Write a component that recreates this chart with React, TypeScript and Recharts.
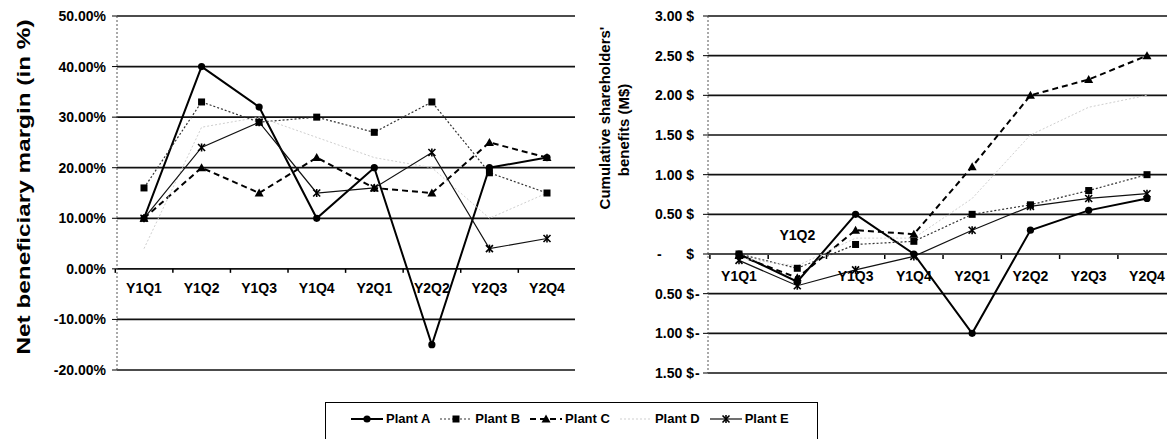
import React from 'react';
import { LineChart, Line, XAxis, YAxis, CartesianGrid } from 'recharts';

const categories = ['Y1Q1', 'Y1Q2', 'Y1Q3', 'Y1Q4', 'Y2Q1', 'Y2Q2', 'Y2Q3', 'Y2Q4'];
const seriesNames = ['Plant A', 'Plant B', 'Plant C', 'Plant D', 'Plant E'];

// Net beneficiary margin (in %)
const marginA = [10, 40, 32, 10, 20, -15, 20, 22];
const marginB = [16, 33, 29, 30, 27, 33, 19, 15];
const marginC = [10, 20, 15, 22, 16, 15, 25, 22];
const marginD = [4, 28, 30, 26, 22, 20, 10, 15];
const marginE = [10, 24, 29, 15, 16, 23, 4, 6];
const marginTicks = [-20, -10, 0, 10, 20, 30, 40, 50];

// Cumulative shareholders' benefits (M$)
const benefitA = [0, -0.35, 0.5, 0, -1.0, 0.3, 0.55, 0.7];
const benefitB = [0, -0.18, 0.12, 0.16, 0.5, 0.62, 0.8, 1.0];
const benefitC = [-0.02, -0.3, 0.3, 0.25, 1.1, 2.0, 2.2, 2.5];
const benefitD = [-0.05, -0.15, 0.2, 0.2, 0.7, 1.5, 1.85, 2.0];
const benefitE = [-0.08, -0.4, -0.2, -0.03, 0.3, 0.6, 0.7, 0.76];
const benefitTicks = [-1.5, -1, -0.5, 0, 0.5, 1, 1.5, 2, 2.5, 3];

const keys = ['A', 'B', 'C', 'D', 'E'];
const marginSeries = [marginA, marginB, marginC, marginD, marginE];
const benefitSeries = [benefitA, benefitB, benefitC, benefitD, benefitE];

const marginData = categories.map((cat, i) => {
  const row: any = { cat };
  keys.forEach((k, j) => (row[k] = marginSeries[j][i]));
  return row;
});
const benefitData = categories.map((cat, i) => {
  const row: any = { cat };
  keys.forEach((k, j) => (row[k] = benefitSeries[j][i]));
  return row;
});

const FONT = '"Liberation Sans", Arial, Helvetica, sans-serif';

const styles = [
  { stroke: '#000', width: 2, dash: undefined as string | undefined, marker: 'circle' },
  { stroke: '#333', width: 1.2, dash: '2 2', marker: 'square' },
  { stroke: '#000', width: 2, dash: '6 4', marker: 'triangle' },
  { stroke: '#cfcfcf', width: 1, dash: '2 2', marker: 'none' },
  { stroke: '#111', width: 1.2, dash: undefined as string | undefined, marker: 'star' },
];

function Marker({ kind, cx, cy }: { kind: string; cx: number; cy: number }) {
  if (cx == null || cy == null || isNaN(cx) || isNaN(cy)) return <g />;
  if (kind === 'circle') return <circle cx={cx} cy={cy} r={3.6} fill="#000" />;
  if (kind === 'square') return <rect x={cx - 3.5} y={cy - 3.5} width={7} height={7} fill="#000" />;
  if (kind === 'triangle')
    return <polygon points={`${cx},${cy - 4.5} ${cx - 4.5},${cy + 3.5} ${cx + 4.5},${cy + 3.5}`} fill="#000" />;
  if (kind === 'star')
    return (
      <g stroke="#000" strokeWidth={1.6}>
        <line x1={cx - 3.5} y1={cy - 3.5} x2={cx + 3.5} y2={cy + 3.5} />
        <line x1={cx - 3.5} y1={cy + 3.5} x2={cx + 3.5} y2={cy - 3.5} />
        <line x1={cx} y1={cy - 4} x2={cx} y2={cy + 4} />
      </g>
    );
  return <g />;
}

const makeXTick = (zeroY: number, half: number, above: string[], below: number, up: number) => (props: any) => {
  const { x, payload } = props;
  const isUp = above.includes(payload.value);
  return (
    <g>
      <line x1={x - half} x2={x - half} y1={zeroY} y2={zeroY + 4} stroke="#000" strokeWidth={1.5} />
      <text
        x={x}
        y={isUp ? zeroY - up : zeroY + below}
        textAnchor="middle"
        fontFamily={FONT}
        fontWeight={700}
        fontSize={14}
        fill="#000"
      >
        {payload.value}
      </text>
    </g>
  );
};

// left plot: top 16, bottom 370, domain [-20, 50]
const leftZero = 16 + (354 * 50) / 70;
// right plot: top 16, bottom 373, domain [-1.5, 3]
const rightZero = 16 + (357 * 3) / 4.5;

const LeftXTick = makeXTick(leftZero, 28.7, [], 24, 0);
const RightXTick = makeXTick(rightZero + 1, 29.1, ['Y1Q2'], 26, 15);

const tickFont = { fontFamily: FONT, fontWeight: 700, fontSize: 14, fill: '#000' };

const BenefitTick = (props: any) => {
  const { x, y, payload } = props;
  const v = Number(payload.value);
  if (Math.abs(v) < 1e-9)
    return (
      <g>
        <text x={x - 43} y={y} dy="0.35em" {...tickFont}>-</text>
        <text x={x - 6} y={y} dy="0.35em" textAnchor="end" {...tickFont}>$</text>
      </g>
    );
  return (
    <g>
      <text x={x - 6} y={y} dy="0.35em" textAnchor="end" {...tickFont}>{`${Math.abs(v).toFixed(2)} $`}</text>
      {v < 0 && (
        <text x={x - 5} y={y} dy="0.35em" {...tickFont}>-</text>
      )}
    </g>
  );
};

const renderLines = () =>
  keys.map((k, j) => {
    const s = styles[j];
    return (
      <Line
        key={k}
        type="linear"
        dataKey={k}
        name={seriesNames[j]}
        stroke={s.stroke}
        strokeWidth={s.width}
        strokeDasharray={s.dash}
        isAnimationActive={false}
        dot={(p: any) => <Marker key={`d-${k}-${p.index}`} kind={s.marker} cx={p.cx} cy={p.cy} />}
        activeDot={false}
      />
    );
  });

function LegendIcon({ idx }: { idx: number }) {
  const s = styles[idx];
  return (
    <svg width={32} height={12} style={{ display: 'block' }}>
      <line x1={0} y1={6} x2={32} y2={6} stroke={s.stroke} strokeWidth={s.width} strokeDasharray={s.dash} />
      <Marker kind={s.marker} cx={16} cy={6} />
    </svg>
  );
}

export default function App() {
  return (
    <div
      style={{
        position: 'absolute',
        left: 0,
        top: 0,
        width: 1167,
        height: 439,
        overflow: 'hidden',
        background: '#fff',
      }}
    >
      <div style={{ position: 'absolute', left: 0, top: 0 }}>
        <LineChart width={580} height={390} data={marginData} margin={{ top: 16, right: 5, bottom: 0, left: 0 }}>
          <CartesianGrid vertical={false} stroke="#111" strokeWidth={1.7} />
          <XAxis
            dataKey="cat"
            height={20}
            axisLine={false}
            tickLine={false}
            interval={0}
            padding={{ left: 27, right: 28 }}
            tick={LeftXTick}
          />
          <YAxis
            domain={[-20, 50]}
            ticks={marginTicks}
            interval={0}
            width={117}
            tickSize={5}
            tickMargin={6}
            axisLine={{ stroke: '#555', strokeDasharray: '2 2' }}
            tickLine={{ stroke: '#000' }}
            tick={tickFont}
            tickFormatter={(v: number) => `${v.toFixed(2)}%`}
          />
          <YAxis
            yAxisId="r"
            orientation="right"
            width={0}
            tick={false}
            tickLine={false}
            axisLine={{ stroke: '#555', strokeDasharray: '2 2' }}
          />
          {renderLines()}
        </LineChart>
      </div>
      <div style={{ position: 'absolute', left: 580, top: 0 }}>
        <LineChart width={596} height={393} data={benefitData} margin={{ top: 16, right: 0, bottom: 0, left: 0 }}>
          <CartesianGrid vertical={false} stroke="#111" strokeWidth={1.7} />
          <XAxis
            dataKey="cat"
            height={20}
            axisLine={false}
            tickLine={false}
            interval={0}
            padding={{ left: 31, right: 29 }}
            tick={RightXTick}
          />
          <YAxis
            domain={[-1.5, 3]}
            ticks={benefitTicks}
            interval={0}
            width={128}
            tickSize={5}
            tickMargin={3}
            axisLine={{ stroke: '#555', strokeDasharray: '2 2' }}
            tickLine={{ stroke: '#000' }}
            tick={BenefitTick}
          />
          {renderLines()}
        </LineChart>
      </div>
      <svg
        width={1167}
        height={439}
        style={{ position: 'absolute', left: 0, top: 0, pointerEvents: 'none' }}
      >
        <text
          transform="translate(23,187) rotate(-90)"
          textAnchor="middle"
          dominantBaseline="central"
          fontFamily={FONT}
          fontWeight={700}
          fontSize={19}
          textLength={335}
          lengthAdjust="spacingAndGlyphs"
          fill="#000"
        >
          Net beneficiary margin (in %)
        </text>
        <text
          transform="translate(604,118) rotate(-90)"
          textAnchor="middle"
          dominantBaseline="central"
          fontFamily={FONT}
          fontWeight={700}
          fontSize={15}
          fill="#000"
        >
          Cumulative shareholders'
        </text>
        <text
          transform="translate(623,130) rotate(-90)"
          textAnchor="middle"
          dominantBaseline="central"
          fontFamily={FONT}
          fontWeight={700}
          fontSize={15}
          fill="#000"
        >
          benefits (M$)
        </text>
      </svg>
      <div
        style={{
          position: 'absolute',
          left: 325,
          top: 402,
          width: 493,
          height: 60,
          border: '1.5px solid #000',
          boxSizing: 'border-box',
          background: '#fff',
        }}
      >
        <div
          style={{
            position: 'absolute',
            left: 25,
            top: 8,
            display: 'flex',
            alignItems: 'center',
            gap: 10,
            fontFamily: FONT,
            fontWeight: 700,
            fontSize: 13,
            color: '#000',
            whiteSpace: 'nowrap',
          }}
        >
          {seriesNames.map((n, i) => (
            <div key={n} style={{ display: 'flex', alignItems: 'center' }}>
              <LegendIcon idx={i} />
              <span style={{ marginLeft: 3 }}>{n}</span>
            </div>
          ))}
        </div>
      </div>
    </div>
  );
}
